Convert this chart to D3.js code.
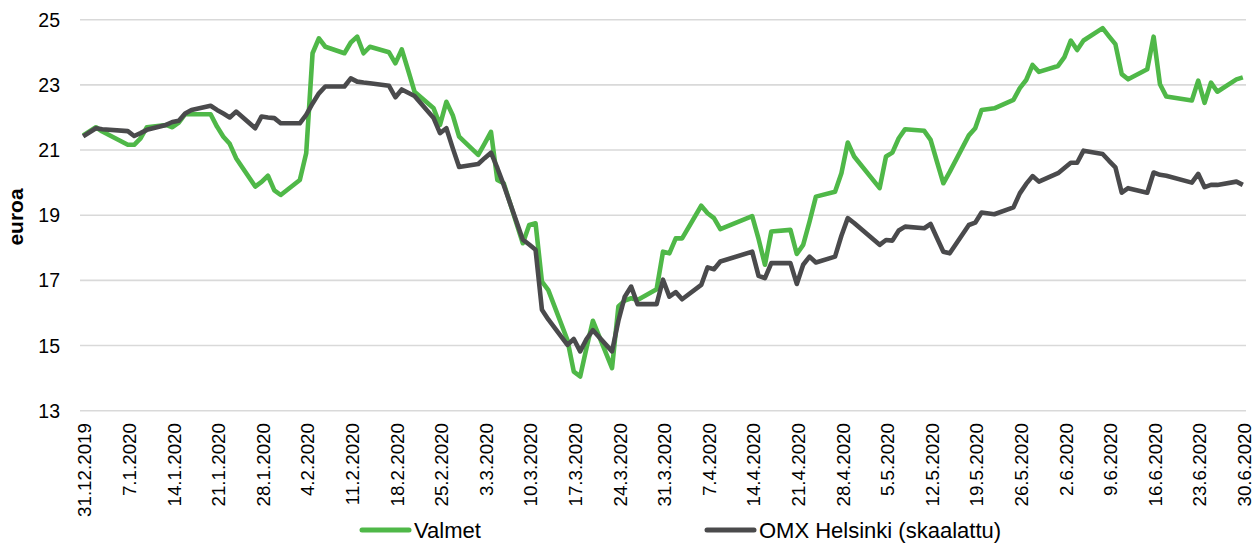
<!DOCTYPE html>
<html>
<head>
<meta charset="utf-8">
<script src="https://cdn.jsdelivr.net/npm/d3@7"></script>
<style>
  html, body { margin: 0; padding: 0; background: #fff; }
  svg { display: block; font-family: "Liberation Sans", Arial, sans-serif; }
</style>
</head>
<body>
<svg id="chart" width="1258" height="544"></svg>
<script>
"use strict";

// trading days shown in the chart
const dates = [
  "2019-12-31",
  "2020-01-02","2020-01-03","2020-01-07","2020-01-08","2020-01-09","2020-01-10",
  "2020-01-13","2020-01-14","2020-01-15","2020-01-16","2020-01-17",
  "2020-01-20","2020-01-21","2020-01-22","2020-01-23","2020-01-24",
  "2020-01-27","2020-01-28","2020-01-29","2020-01-30","2020-01-31",
  "2020-02-03","2020-02-04","2020-02-05","2020-02-06","2020-02-07",
  "2020-02-10","2020-02-11","2020-02-12","2020-02-13","2020-02-14",
  "2020-02-17","2020-02-18","2020-02-19","2020-02-20","2020-02-21",
  "2020-02-24","2020-02-25","2020-02-26","2020-02-27","2020-02-28",
  "2020-03-02","2020-03-03","2020-03-04","2020-03-05","2020-03-06",
  "2020-03-09","2020-03-10","2020-03-11","2020-03-12","2020-03-13",
  "2020-03-16","2020-03-17","2020-03-18","2020-03-19","2020-03-20",
  "2020-03-23","2020-03-24","2020-03-25","2020-03-26","2020-03-27",
  "2020-03-30","2020-03-31","2020-04-01","2020-04-02","2020-04-03",
  "2020-04-06","2020-04-07","2020-04-08","2020-04-09",
  "2020-04-14","2020-04-15","2020-04-16","2020-04-17",
  "2020-04-20","2020-04-21","2020-04-22","2020-04-23","2020-04-24",
  "2020-04-27","2020-04-28","2020-04-29","2020-04-30",
  "2020-05-04","2020-05-05","2020-05-06","2020-05-07","2020-05-08",
  "2020-05-11","2020-05-12","2020-05-13","2020-05-14","2020-05-15",
  "2020-05-18","2020-05-19","2020-05-20","2020-05-22",
  "2020-05-25","2020-05-26","2020-05-27","2020-05-28","2020-05-29",
  "2020-06-01","2020-06-02","2020-06-03","2020-06-04","2020-06-05",
  "2020-06-08","2020-06-09","2020-06-10","2020-06-11","2020-06-12",
  "2020-06-15","2020-06-16","2020-06-17","2020-06-18",
  "2020-06-22","2020-06-23","2020-06-24","2020-06-25","2020-06-26",
  "2020-06-29","2020-06-30"
]

const valmet = [
  21.45,
  21.70,21.57,21.16,21.16,21.36,21.70,
  21.77,21.70,21.84,22.10,22.10,
  22.10,21.72,21.41,21.19,20.75,
  19.88,20.02,20.21,19.76,19.62,
  20.08,20.90,23.97,24.43,24.17,
  23.97,24.30,24.48,23.97,24.17,
  24.00,23.66,24.09,23.45,22.79,
  22.28,21.77,22.48,22.07,21.41,
  20.85,21.20,21.56,20.08,19.98,
  18.14,18.70,18.75,16.96,16.70,
  15.17,14.20,14.05,14.93,15.76,
  14.31,16.20,16.38,16.45,16.40,
  16.73,17.88,17.83,18.29,18.29,
  19.29,19.06,18.91,18.57,
  18.97,18.27,17.48,18.50,
  18.55,17.81,18.09,18.80,19.57,
  19.72,20.29,21.23,20.80,
  19.83,20.80,20.92,21.36,21.64,
  21.59,21.31,20.64,19.98,20.33,
  21.45,21.67,22.23,22.28,
  22.54,22.90,23.15,23.61,23.40,
  23.58,23.85,24.36,24.07,24.36,
  24.74,24.49,24.25,23.33,23.17,
  23.48,24.48,23.02,22.64,
  22.52,23.13,22.45,23.07,22.79,
  23.17,23.23
]

const omx = [
  21.42,
  21.67,21.64,21.58,21.43,21.52,21.62,
  21.77,21.86,21.90,22.12,22.23,
  22.36,22.23,22.12,22.00,22.18,
  21.67,22.03,22.00,21.98,21.82,
  21.82,22.08,22.43,22.74,22.95,
  22.95,23.20,23.10,23.07,23.05,
  22.97,22.62,22.86,22.76,22.66,
  21.98,21.52,21.67,21.06,20.48,
  20.57,20.75,20.92,20.45,19.93,
  18.25,18.10,17.94,16.10,15.80,
  15.02,15.20,14.82,15.20,15.47,
  14.82,15.76,16.50,16.81,16.27,
  16.27,17.02,16.50,16.64,16.42,
  16.86,17.40,17.34,17.58,
  17.88,17.14,17.07,17.53,
  17.53,16.89,17.48,17.73,17.55,
  17.73,18.37,18.91,18.76,
  18.09,18.24,18.22,18.53,18.65,
  18.60,18.73,18.30,17.88,17.83,
  18.70,18.77,19.08,19.03,
  19.24,19.67,19.96,20.20,20.03,
  20.29,20.45,20.61,20.61,20.98,
  20.88,20.67,20.47,19.69,19.83,
  19.69,20.31,20.24,20.21,
  20.00,20.27,19.86,19.93,19.93,
  20.03,19.93
]

const xLabels = [
  "31.12.2019","7.1.2020","14.1.2020","21.1.2020","28.1.2020",
  "4.2.2020","11.2.2020","18.2.2020","25.2.2020","3.3.2020",
  "10.3.2020","17.3.2020","24.3.2020","31.3.2020","7.4.2020",
  "14.4.2020","21.4.2020","28.4.2020","5.5.2020","12.5.2020",
  "19.5.2020","26.5.2020","2.6.2020","9.6.2020","16.6.2020",
  "23.6.2020","30.6.2020"
]
const yTicks = [13, 15, 17, 19, 21, 23, 25]

const seriesNames = ["Valmet", "OMX Helsinki (skaalattu)"]
const seriesColors = ["#4fb848", "#4a4a4c"]

const parseIso = d3.timeParse("%Y-%m-%d")
const parseFi = d3.timeParse("%d.%m.%Y")

const plot = {left: 80, right: 1246, top: 19.7, bottom: 410.7}
const svg = d3.select("#chart")

// date axis: each calendar day gets its own slot, points sit in the middle
const dayW = (plot.right - plot.left) / 183
const x = d3.scaleTime()
  .domain([parseIso(dates[0]), parseIso(dates[dates.length-1])])
  .range([plot.left + dayW/2, plot.right - dayW/2])

const y = d3.scaleLinear()
  .domain([13, 25])
  .range([plot.bottom, plot.top])

// gridlines
svg.append("g").selectAll("line").data(yTicks).enter()
  .append("line")
  .attr("x1", plot.left)
  .attr("x2", plot.right)
  .attr("y1", d=>y(d))
  .attr("y2", d=>y(d))
  .attr("stroke", "#d9d9d9")
  .attr("stroke-width", 1.6)

// y tick labels
svg.append("g").selectAll("text").data(yTicks).enter()
  .append("text")
  .attr("x", 60)
  .attr("y", d=>y(d))
  .attr("dy", "0.36em")
  .attr("text-anchor", "end")
  .attr("font-size", 19.5)
  .attr("fill", "#000")
  .text(d=>d)

// y title
svg.append("text")
  .attr("transform", "translate(23,217) rotate(-90)")
  .attr("text-anchor", "middle")
  .attr("font-size", 21)
  .attr("font-weight", "bold")
  .attr("fill", "#000")
  .text("euroa")

// x tick labels (rotated)
svg.append("g").selectAll("text").data(xLabels).enter()
  .append("text")
  .attr("transform", d=>"translate("+(x(parseFi(d))+1.5)+",423) rotate(-90)")
  .attr("dy", "0.36em")
  .attr("text-anchor", "end")
  .attr("font-size", 18.8)
  .attr("fill", "#000")
  .text(d=>d)

// lines
const parsed = dates.map(parseIso)
const lineGen = d3.line()
  .x((d,i)=>x(parsed[i]))
  .y(d=>y(d))

;[valmet, omx].forEach((vals, k)=>{
  svg.append("path")
    .datum(vals)
    .attr("d", lineGen)
    .attr("fill", "none")
    .attr("stroke", seriesColors[k])
    .attr("stroke-width", 4.6)
    .attr("stroke-linejoin", "round")
})

// legend
const legendX = [362, 707]
const legend = svg.append("g").selectAll("g").data(seriesNames).enter()
  .append("g")
  .attr("transform", (d,i)=>"translate("+legendX[i]+",530)")
legend.append("line")
  .attr("x1", 0).attr("x2", 47)
  .attr("y1", 0).attr("y2", 0)
  .attr("stroke", (d,i)=>seriesColors[i])
  .attr("stroke-width", 5)
  .attr("stroke-linecap", "round")
legend.append("text")
  .attr("x", 52)
  .attr("y", 8)
  .attr("font-size", 22)
  .attr("fill", "#000")
  .text(d=>d)
</script>
</body>
</html>
